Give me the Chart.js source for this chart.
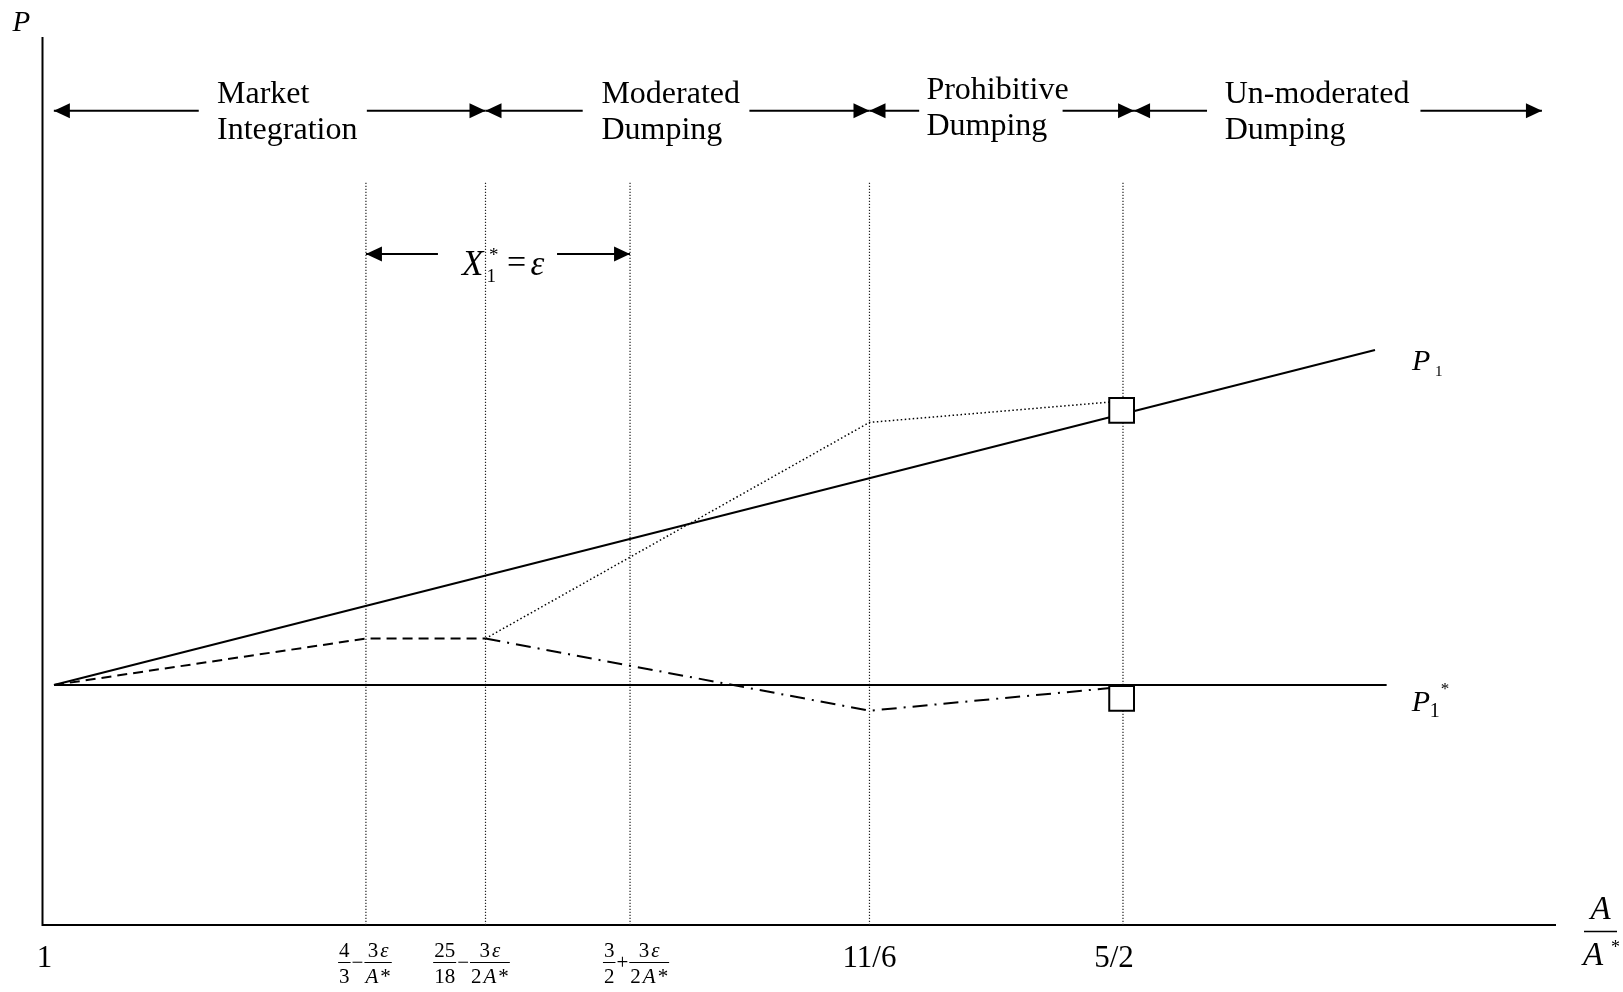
<!DOCTYPE html>
<html lang="en">
<head>
<meta charset="utf-8">
<title>Dumping regimes</title>
<script src="https://cdn.jsdelivr.net/npm/chart.js@4.4.1/dist/chart.umd.min.js"></script>
<style>
  html, body { margin: 0; padding: 0; background: #fff; }
  #wrap { width: 1623px; height: 992px; position: relative; }
</style>
</head>
<body>
<div id="wrap"><canvas id="grafico"></canvas></div>
<script>
// Eje A/A* esquemático (el original no es lineal): posiciones en unidades 0-100
const xTickValues = [0.76, 21.37, 29.27, 38.82, 54.64, 71.39];
const xTickLabels = ['1', '4/3 − 3ε/A*', '25/18 − 3ε/2A*', '3/2 + 3ε/2A*', '11/6', '5/2'];

// líneas punteadas verticales
const guideX = [21.37, 29.27, 38.82, 54.64, 71.39];
const guideTop = 83.7;

// P1 y P1*
const p1X = [0.76, 88.04];
const p1Y = [27.03, 64.75];
const p1StarX = [0.76, 88.81];
const p1StarY = [27.03, 27.03];

// trayectorias del precio (discontinua, punteada, raya-punto)
const integX = [0.76, 21.37, 29.27];
const integY = [27.03, 32.26, 32.26];
const upperX = [29.27, 54.64, 71.3];
const upperY = [32.26, 56.6, 59.0];
const lowerX = [29.27, 54.64, 71.3];
const lowerY = [32.26, 24.13, 26.8];

// cuadrados en A/A* = 5/2
const markerX = [71.3, 71.3];
const markerY = [57.94, 25.51];

// regiones de la parte superior
const regionNames = [['Market', 'Integration'], ['Moderated', 'Dumping'], ['Prohibitive', 'Dumping'], ['Un-moderated', 'Dumping']];
const regionBounds = [0.75, 29.27, 54.64, 72.12, 99.07];

// flecha X1* = ε
const epsRange = [21.37, 38.82];

const pts = (xs, ys) => xs.map((x, i) => ({ x: x, y: ys[i] }));
const serif = "'Liberation Serif', 'Times New Roman', serif";
const font = (size, italic) => (italic ? 'italic ' : '') + size + 'px ' + serif;

function arrowHead(ctx, x, y, dir) {
    ctx.beginPath();
    ctx.moveTo(x, y);
    ctx.lineTo(x - dir * 16, y - 7.5);
    ctx.lineTo(x - dir * 16, y + 7.5);
    ctx.closePath();
    ctx.fill();
}

function hLine(ctx, x1, x2, y, w) {
    ctx.lineWidth = w || 2;
    ctx.beginPath();
    ctx.moveTo(x1, y);
    ctx.lineTo(x2, y);
    ctx.stroke();
}

// separa un texto en tramos cursiva / normal (letras en cursiva)
function runs(str) {
    const out = [];
    for (const ch of str) {
        const it = /[A-Za-zε]/.test(ch);
        if (out.length && out[out.length - 1].it === it) out[out.length - 1].t += ch;
        else out.push({ t: ch, it: it });
    }
    return out;
}

function runsWidth(ctx, rs, size) {
    let w = 0;
    rs.forEach((r, i) => {
        ctx.font = font(size, r.it);
        w += ctx.measureText(r.t).width + (i > 0 ? 2 : 0);
    });
    return w;
}

function drawRuns(ctx, rs, x, y, size) {
    rs.forEach((r, i) => {
        if (i > 0) x += 2;
        ctx.font = font(size, r.it);
        ctx.fillText(r.t, x, y);
        x += ctx.measureText(r.t).width;
    });
}

function fracGroupWidth(ctx, parts, size) {
    let w = 0;
    parts.forEach(p => {
        if (p.includes('/')) {
            const [n, d] = p.split('/');
            w += Math.max(runsWidth(ctx, runs(n), size), runsWidth(ctx, runs(d), size)) + 2;
        } else {
            ctx.font = font(size, false);
            w += ctx.measureText(p).width + 2;
        }
    });
    return w;
}

function drawFracGroup(ctx, label, cx, bottom) {
    const size = 21;
    const parts = label.split(' ');
    let x = cx - fracGroupWidth(ctx, parts, size) / 2;
    parts.forEach(p => {
        if (p.includes('/')) {
            const [n, d] = p.split('/');
            const rn = runs(n), rd = runs(d);
            const wn = runsWidth(ctx, rn, size), wd = runsWidth(ctx, rd, size);
            const w = Math.max(wn, wd) + 2;
            drawRuns(ctx, rn, x + (w - wn) / 2, bottom + 32, size);
            drawRuns(ctx, rd, x + (w - wd) / 2, bottom + 57.5, size);
            hLine(ctx, x, x + w, bottom + 37.5, 1);
            x += w;
        } else {
            ctx.font = font(size, false);
            ctx.fillText(p, x + 1, bottom + 43.5);
            x += ctx.measureText(p).width + 2;
        }
    });
}

// desplazamiento horizontal (px) de cada etiqueta respecto a su valor
const tickNudge = [-9.5, -1, -14, 6, 0, -9];
// [inicio del texto desde el borde izq., hueco antes, hueco después, desplazamiento vertical]
const headerLayout = [
    [163.2, 18.3, 9.4, 0],
    [115.9, 18.7, 9.4, 0],
    [56.9, 7.2, -6, -4],
    [90.6, 17.6, 11, 0]
];

const anotaciones = {
    id: 'anotaciones',
    beforeDatasetsDraw(chart) {
        const { ctx, chartArea: a } = chart;
        ctx.save();
        ctx.strokeStyle = '#000';
        ctx.lineWidth = 2;
        ctx.beginPath();
        ctx.moveTo(a.left, a.top);
        ctx.lineTo(a.left, a.bottom);
        ctx.lineTo(a.right, a.bottom);
        ctx.stroke();
        ctx.restore();
    },
    afterDatasetsDraw(chart) {
        const { ctx, chartArea: a } = chart;
        const sx = v => chart.scales.x.getPixelForValue(v);
        const sy = v => chart.scales.y.getPixelForValue(v);
        ctx.save();
        ctx.fillStyle = '#000';
        ctx.strokeStyle = '#000';
        ctx.textBaseline = 'alphabetic';
        ctx.textAlign = 'left';

        // regiones con flechas
        const headY = sy(91.7);
        regionNames.forEach((lines, i) => {
            const [off, gapL, gapR, dy] = headerLayout[i];
            const x0 = sx(regionBounds[i]), x1 = sx(regionBounds[i + 1]);
            const tx = x0 + off;
            ctx.font = font(32, false);
            const w = Math.max(...lines.map(t => ctx.measureText(t).width));
            ctx.fillText(lines[0], tx, headY - 8 + dy);
            ctx.fillText(lines[1], tx, headY + 28 + dy);
            hLine(ctx, x0, tx - gapL, headY);
            hLine(ctx, tx + w + gapR, x1, headY);
            arrowHead(ctx, x0, headY, -1);
            arrowHead(ctx, x1, headY, 1);
        });

        // X1* = ε
        const ey = sy(75.56);
        const ex0 = sx(epsRange[0]), ex1 = sx(epsRange[1]);
        hLine(ctx, ex0, ex0 + 72, ey);
        hLine(ctx, ex1 - 73, ex1, ey);
        arrowHead(ctx, ex0, ey, -1);
        arrowHead(ctx, ex1, ey, 1);
        const tx = ex0 + 96;
        ctx.font = font(35, true);
        ctx.fillText('X', tx, ey + 21);
        ctx.font = font(19, false);
        ctx.fillText('1', tx + 24.5, ey + 28);
        ctx.fillText('*', tx + 27, ey + 7);
        ctx.font = font(34, false);
        ctx.fillText('=', tx + 45, ey + 19);
        ctx.font = font(35, true);
        ctx.fillText('ε', tx + 68.5, ey + 21);

        // etiquetas del eje x
        xTickLabels.forEach((lab, i) => {
            const cx = sx(xTickValues[i]) + tickNudge[i];
            if (lab.includes(' ')) {
                drawFracGroup(ctx, lab, cx, a.bottom);
            } else {
                ctx.font = font(31, false);
                ctx.textAlign = 'center';
                ctx.fillText(lab, cx, a.bottom + 41.7);
                ctx.textAlign = 'left';
            }
        });

        // título del eje x: A / A*
        ctx.font = font(33, true);
        ctx.textAlign = 'center';
        ctx.fillText('A', a.right + 44.5, a.bottom - 6);
        ctx.textAlign = 'left';
        hLine(ctx, a.right + 28, a.right + 61, a.bottom + 6.6, 1.5);
        ctx.fillText('A', a.right + 27, a.bottom + 40);
        ctx.font = font(18, false);
        ctx.fillText('*', a.right + 55, a.bottom + 28);

        // título del eje y
        ctx.font = font(29, true);
        ctx.fillText('P', a.left - 30, a.top - 6);

        // P1 y P1*
        const p1x = sx(p1X[1]) + 37, p1y = sy(p1Y[1]) + 20;
        ctx.font = font(30, true);
        ctx.fillText('P', p1x, p1y);
        ctx.font = font(15, false);
        ctx.fillText('1', p1x + 23, p1y + 6);

        const psx = sx(p1StarX[1]) + 25, psy = sy(p1StarY[1]) + 26;
        ctx.font = font(30, true);
        ctx.fillText('P', psx, psy);
        ctx.font = font(20, false);
        ctx.fillText('1', psx + 18, psy + 6);
        ctx.font = font(17, false);
        ctx.fillText('*', psx + 29, psy - 17);

        ctx.restore();
    }
};

const lineBase = {
    showLine: true,
    pointRadius: 0,
    pointHoverRadius: 0,
    borderColor: '#000',
    borderWidth: 2,
    fill: false,
    tension: 0,
    clip: false
};

const datasets = [
    {
        label: 'marcas',
        data: pts(markerX, markerY),
        showLine: false,
        pointStyle: 'rect',
        pointRadius: 17.5,
        pointHoverRadius: 17.5,
        pointBorderWidth: 2,
        pointBackgroundColor: '#fff',
        pointBorderColor: '#000',
        clip: false
    },
    { ...lineBase, label: 'P1', data: pts(p1X, p1Y) },
    { ...lineBase, label: 'P1*', data: pts(p1StarX, p1StarY) },
    { ...lineBase, label: 'integración', data: pts(integX, integY), borderDash: [10, 6] },
    { ...lineBase, label: 'superior', data: pts(upperX, upperY), borderDash: [1.5, 2.5], borderWidth: 1.5 },
    { ...lineBase, label: 'inferior', data: pts(lowerX, lowerY), borderDash: [15, 7, 2, 7] }
].concat(guideX.map(gx => ({
    ...lineBase,
    label: 'guía',
    data: [{ x: gx, y: 0 }, { x: gx, y: guideTop }],
    borderDash: [1.2, 1.8],
    borderWidth: 1.2,
    borderColor: '#222'
})));

new Chart(document.getElementById('grafico'), {
    type: 'scatter',
    data: { datasets: datasets },
    options: {
        responsive: true,
        maintainAspectRatio: false,
        animation: false,
        events: [],
        layout: { padding: { left: 42.5, top: 37, right: 67, bottom: 67 } },
        plugins: { legend: { display: false }, tooltip: { enabled: false } },
        scales: {
            x: { type: 'linear', display: false, min: 0, max: 100 },
            y: { type: 'linear', display: false, min: 0, max: 100 }
        }
    },
    plugins: [anotaciones]
});
</script>
</body>
</html>
